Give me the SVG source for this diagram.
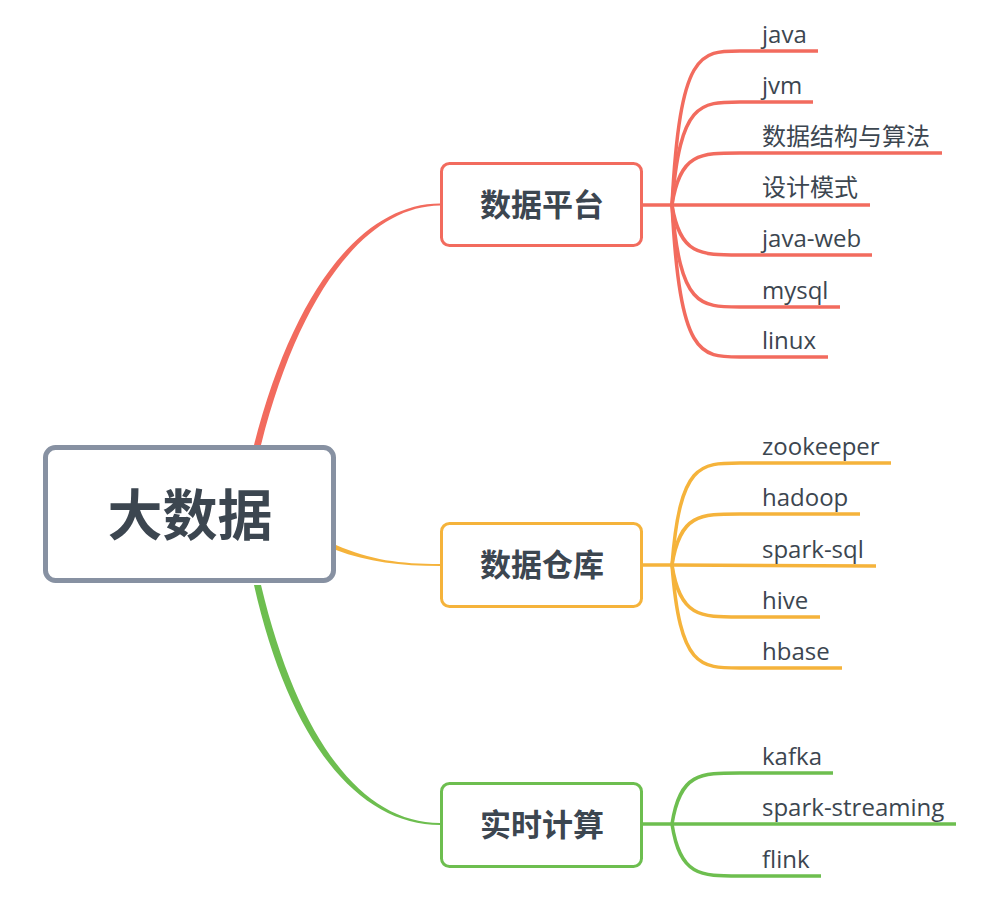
<svg xmlns="http://www.w3.org/2000/svg" width="986" height="910" viewBox="0 0 986 910">
<style>
.root{fill:#fff;stroke:#8791A2;stroke-width:5}
.main{fill:#fff;stroke-width:3}
.red{stroke:#F26B5E}.org{stroke:#F5B33B}.grn{stroke:#6DBE4F}
.rf{fill:#F26B5E}.of{fill:#F5B33B}.gf{fill:#6DBE4F}
.br{fill:none;stroke-width:3.5;stroke-linecap:butt}
.t0{font-family:"Noto Sans CJK SC",sans-serif;font-weight:bold;font-size:55px;fill:#3C4650;text-anchor:middle}
.t1{font-family:"Noto Sans CJK SC",sans-serif;font-weight:bold;font-size:31px;fill:#3C4650;text-anchor:middle}
.t2{font-family:"Open Sans","Noto Sans CJK SC",sans-serif;font-size:24px;fill:#3C4650}
</style>
<rect width="986" height="910" fill="#fff"/>
<g id="connectors">
<path class="rf" d="M254,445 C295,285 365,203.5 440,203.5 L440,205.5 C368,206 300,290 261,445 Z"/>
<path class="of" d="M336,545 C370,560 400,564 440,564 L440,566 C400,566 368,562 336,550 Z"/>
<path class="gf" d="M254,585 C290,745 360,825 440,825 L440,823 C362,823 298,740 261,585 Z"/>
<g class="br red">
<path d="M643,205 L672,205"/>
<path d="M672,205 C680,51 700,51 740,51 L818,51"/>
<path d="M672,205 C680,102 700,102 740,102 L813,102"/>
<path d="M672,205 C680,153 700,153 740,153 L942,153"/>
<path d="M672,205 L870,205"/>
<path d="M672,205 C680,255 700,255 740,255 L872,255"/>
<path d="M672,205 C680,307 700,307 740,307 L840,307"/>
<path d="M672,205 C680,357 700,357 740,357 L828,357"/>
</g>
<g class="br org">
<path d="M643,565 L672,565"/>
<path d="M672,565 C680,463 700,463 740,463 L891,463"/>
<path d="M672,565 C680,514 700,514 740,514 L860,514"/>
<path d="M672,565 L876,566"/>
<path d="M672,565 C680,617 700,617 740,617 L820,617"/>
<path d="M672,565 C680,668 700,668 740,668 L842,668"/>
</g>
<g class="br grn">
<path d="M643,824 L672,824"/>
<path d="M672,824 C680,773 700,773 740,773 L833,773"/>
<path d="M672,824 L956,824"/>
<path d="M672,824 C680,876 700,876 740,876 L821,876"/>
</g>
</g>
<g id="root"><rect class="root" x="45.5" y="447.5" width="288" height="133" rx="10"/><text class="t0" x="190" y="535">大数据</text></g>
<g id="n1"><rect class="main red" x="441.5" y="163.5" width="200" height="82" rx="8"/><text class="t1" x="542" y="216">数据平台</text></g>
<g id="n2"><rect class="main org" x="441.5" y="523.5" width="200" height="83" rx="8"/><text class="t1" x="542" y="576">数据仓库</text></g>
<g id="n3"><rect class="main grn" x="441.5" y="783.5" width="200" height="83" rx="8"/><text class="t1" x="542" y="836">实时计算</text></g>
<g id="leaves">
<text class="t2" x="762" y="43">java</text>
<text class="t2" x="762" y="94">jvm</text>
<text class="t2" x="762" y="145">数据结构与算法</text>
<text class="t2" x="762" y="196">设计模式</text>
<text class="t2" x="762" y="247">java-web</text>
<text class="t2" x="762" y="299">mysql</text>
<text class="t2" x="762" y="349">linux</text>
<text class="t2" x="762" y="455">zookeeper</text>
<text class="t2" x="762" y="506">hadoop</text>
<text class="t2" x="762" y="558">spark-sql</text>
<text class="t2" x="762" y="609">hive</text>
<text class="t2" x="762" y="660">hbase</text>
<text class="t2" x="762" y="765">kafka</text>
<text class="t2" x="762" y="816">spark-streaming</text>
<text class="t2" x="762" y="868">flink</text>
</g>
</svg>
